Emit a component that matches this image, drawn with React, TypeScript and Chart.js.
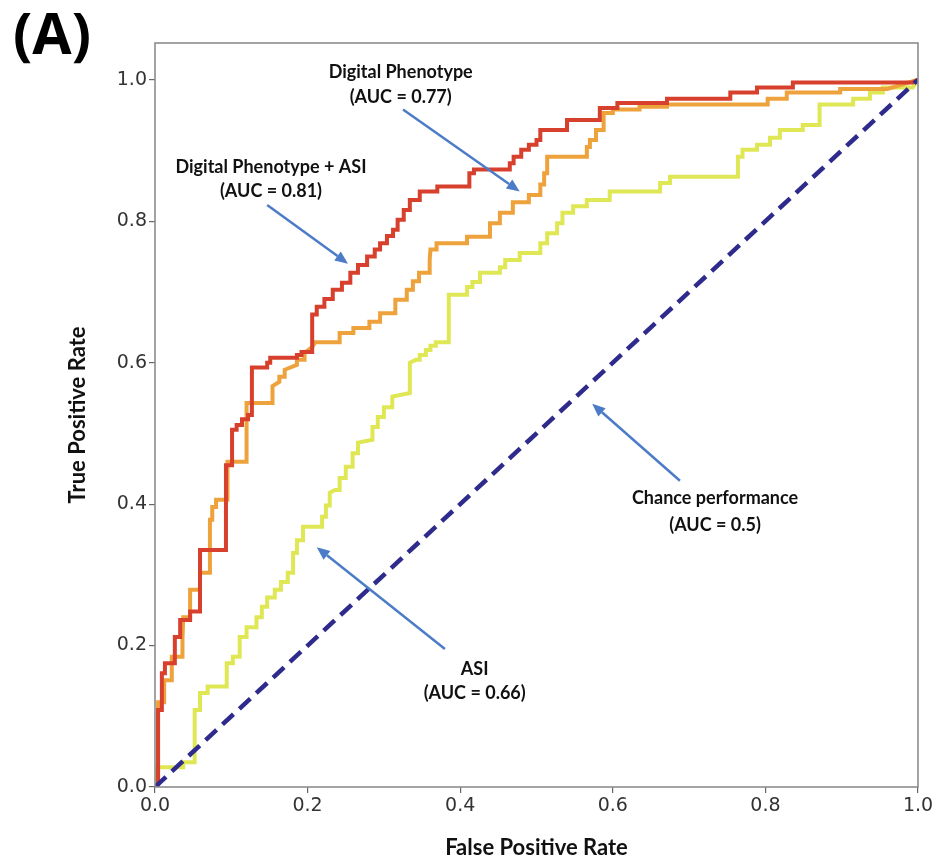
import React, { useEffect, useRef } from "react";
import { Chart, registerables } from "chart.js";

Chart.register(...registerables);

const xTicks = [0, 0.2, 0.4, 0.6, 0.8, 1.0];
const yTicks = [0, 0.2, 0.4, 0.6, 0.8, 1.0];

// ROC curve: Digital Phenotype + ASI (AUC = 0.81) — [FPR, TPR]
const dpAsiRoc: [number, number][] = [
  [0, 0], [0.004, 0], [0.004, 0.109], [0.009, 0.109], [0.009, 0.161], [0.013, 0.161], [0.013, 0.175],
  [0.026, 0.175], [0.026, 0.212], [0.033, 0.212], [0.033, 0.236], [0.046, 0.236], [0.046, 0.248],
  [0.059, 0.248], [0.059, 0.335], [0.093, 0.335], [0.093, 0.455], [0.101, 0.455], [0.101, 0.505],
  [0.107, 0.505], [0.107, 0.512], [0.114, 0.512], [0.114, 0.52], [0.122, 0.52], [0.122, 0.526],
  [0.127, 0.526], [0.127, 0.593], [0.147, 0.593], [0.147, 0.6], [0.151, 0.6], [0.151, 0.607],
  [0.186, 0.607], [0.186, 0.611], [0.192, 0.611], [0.192, 0.615], [0.206, 0.615], [0.206, 0.668],
  [0.212, 0.668], [0.212, 0.679], [0.222, 0.679], [0.222, 0.69], [0.233, 0.69], [0.233, 0.703],
  [0.245, 0.703], [0.245, 0.713], [0.256, 0.713], [0.256, 0.727], [0.266, 0.727], [0.266, 0.738],
  [0.278, 0.738], [0.278, 0.75], [0.288, 0.75], [0.288, 0.76], [0.295, 0.76], [0.295, 0.769],
  [0.304, 0.769], [0.304, 0.779], [0.312, 0.779], [0.312, 0.788], [0.318, 0.788], [0.318, 0.802],
  [0.326, 0.802], [0.326, 0.816], [0.334, 0.816], [0.334, 0.83], [0.347, 0.83], [0.347, 0.842],
  [0.37, 0.842], [0.37, 0.849], [0.412, 0.849], [0.412, 0.868], [0.418, 0.868], [0.418, 0.873],
  [0.465, 0.873], [0.465, 0.882], [0.47, 0.882], [0.47, 0.891], [0.48, 0.891], [0.48, 0.901],
  [0.49, 0.901], [0.49, 0.908], [0.5, 0.908], [0.5, 0.915], [0.505, 0.915], [0.505, 0.929],
  [0.54, 0.929], [0.54, 0.943], [0.583, 0.943], [0.583, 0.96], [0.606, 0.96], [0.606, 0.967],
  [0.671, 0.967], [0.671, 0.973], [0.754, 0.973], [0.754, 0.982], [0.789, 0.982], [0.789, 0.989],
  [0.836, 0.989], [0.836, 0.996], [0.993, 0.996], [1, 1],
];

// ROC curve: Digital Phenotype (AUC = 0.77)
const dpRoc: [number, number][] = [
  [0, 0], [0.004, 0], [0.004, 0.12], [0.012, 0.12], [0.012, 0.151], [0.022, 0.151], [0.022, 0.184],
  [0.036, 0.184], [0.036, 0.208], [0.037, 0.24], [0.046, 0.24], [0.046, 0.279], [0.059, 0.279],
  [0.059, 0.303], [0.072, 0.303], [0.072, 0.378], [0.075, 0.378], [0.075, 0.396], [0.08, 0.396],
  [0.08, 0.406], [0.095, 0.406], [0.095, 0.46], [0.12, 0.46], [0.12, 0.543], [0.154, 0.543],
  [0.154, 0.567], [0.163, 0.573], [0.163, 0.58], [0.17, 0.58], [0.17, 0.59], [0.186, 0.597],
  [0.186, 0.604], [0.196, 0.604], [0.196, 0.614], [0.206, 0.622], [0.21, 0.629], [0.242, 0.629],
  [0.242, 0.642], [0.26, 0.642], [0.26, 0.649], [0.281, 0.649], [0.281, 0.658], [0.295, 0.658],
  [0.295, 0.67], [0.315, 0.67], [0.315, 0.689], [0.33, 0.689], [0.33, 0.703], [0.338, 0.703],
  [0.338, 0.715], [0.346, 0.715], [0.346, 0.727], [0.36, 0.727], [0.36, 0.745], [0.361, 0.76],
  [0.369, 0.76], [0.369, 0.769], [0.409, 0.769], [0.409, 0.778], [0.439, 0.778], [0.439, 0.797],
  [0.452, 0.797], [0.452, 0.812], [0.469, 0.812], [0.469, 0.827], [0.49, 0.827], [0.49, 0.837],
  [0.505, 0.837], [0.505, 0.852], [0.51, 0.852], [0.51, 0.868], [0.514, 0.868], [0.514, 0.891],
  [0.566, 0.891], [0.566, 0.905], [0.57, 0.905], [0.57, 0.915], [0.578, 0.915], [0.578, 0.929],
  [0.588, 0.929], [0.588, 0.953], [0.6, 0.953], [0.6, 0.958], [0.635, 0.958], [0.635, 0.962],
  [0.671, 0.962], [0.671, 0.965], [0.803, 0.965], [0.803, 0.973], [0.828, 0.973], [0.828, 0.982],
  [0.898, 0.982], [0.898, 0.987], [0.96, 0.987], [1, 1],
];

// ROC curve: ASI (AUC = 0.66)
const asiRoc: [number, number][] = [
  [0, 0], [0.001, 0], [0.001, 0.028], [0.037, 0.028], [0.037, 0.035], [0.052, 0.035], [0.052, 0.109],
  [0.059, 0.109], [0.059, 0.133], [0.069, 0.133], [0.069, 0.142], [0.094, 0.142], [0.094, 0.175],
  [0.102, 0.175], [0.102, 0.184], [0.111, 0.184], [0.111, 0.212], [0.12, 0.212], [0.12, 0.226],
  [0.133, 0.226], [0.133, 0.24], [0.14, 0.24], [0.14, 0.255], [0.147, 0.255], [0.147, 0.268],
  [0.157, 0.268], [0.157, 0.279], [0.165, 0.279], [0.165, 0.29], [0.174, 0.29], [0.174, 0.303],
  [0.181, 0.303], [0.181, 0.331], [0.186, 0.331], [0.186, 0.349], [0.194, 0.349], [0.194, 0.368],
  [0.219, 0.368], [0.219, 0.382], [0.224, 0.382], [0.224, 0.398], [0.229, 0.398], [0.229, 0.416],
  [0.236, 0.42], [0.242, 0.42], [0.242, 0.437], [0.25, 0.437], [0.25, 0.453], [0.259, 0.453],
  [0.259, 0.472], [0.266, 0.472], [0.266, 0.487], [0.285, 0.491], [0.285, 0.509], [0.292, 0.509],
  [0.292, 0.523], [0.3, 0.523], [0.3, 0.537], [0.311, 0.537], [0.311, 0.552], [0.334, 0.557],
  [0.334, 0.6], [0.342, 0.604], [0.347, 0.604], [0.347, 0.611], [0.355, 0.611], [0.355, 0.618],
  [0.361, 0.618], [0.361, 0.624], [0.368, 0.624], [0.368, 0.629], [0.385, 0.629], [0.385, 0.696],
  [0.409, 0.696], [0.409, 0.707], [0.416, 0.707], [0.416, 0.714], [0.426, 0.714], [0.426, 0.727],
  [0.452, 0.727], [0.452, 0.735], [0.459, 0.735], [0.459, 0.745], [0.478, 0.745], [0.478, 0.755],
  [0.505, 0.755], [0.505, 0.769], [0.514, 0.769], [0.514, 0.783], [0.527, 0.783], [0.527, 0.797],
  [0.534, 0.797], [0.534, 0.812], [0.548, 0.812], [0.548, 0.821], [0.566, 0.821], [0.566, 0.83],
  [0.596, 0.83], [0.596, 0.842], [0.662, 0.842], [0.662, 0.854], [0.675, 0.854], [0.675, 0.863],
  [0.764, 0.863], [0.764, 0.891], [0.77, 0.891], [0.77, 0.901], [0.789, 0.901], [0.789, 0.908],
  [0.806, 0.908], [0.806, 0.918], [0.819, 0.918], [0.819, 0.929], [0.849, 0.929], [0.849, 0.936],
  [0.871, 0.936], [0.871, 0.965], [0.915, 0.965], [0.915, 0.973], [0.937, 0.973], [0.937, 0.982],
  [0.954, 0.982], [0.954, 0.989], [0.993, 0.989], [1, 1],
];

// Chance performance diagonal
const chanceRoc: [number, number][] = [[0, 0], [1, 1]];

// Annotation labels (data coordinates): label lines, text centre x, line y's, arrow tail, arrow head
const labelLines: string[][] = [
  ["Digital Phenotype", "(AUC = 0.77)"],
  ["Digital Phenotype + ASI", "(AUC = 0.81)"],
  ["Chance performance", "(AUC = 0.5)"],
  ["ASI", "(AUC = 0.66)"],
];
const labelX = [0.322, 0.152, 0.734, 0.419];
const labelY: number[][] = [
  [1.011, 0.975],
  [0.877, 0.842],
  [0.409, 0.37],
  [0.167, 0.132],
];
const arrowFrom: [number, number][] = [[0.325, 0.958], [0.147, 0.823], [0.688, 0.433], [0.38, 0.195]];
const arrowTo: [number, number][] = [[0.478, 0.842], [0.253, 0.74], [0.573, 0.542], [0.212, 0.339]];

const toXY = (pts: [number, number][]) => pts.map(([x, y]) => ({ x, y }));

const decorPlugin = {
  id: "decor",
  afterDraw(chart: any) {
    const { ctx, chartArea, scales } = chart;
    const xs = scales.x;
    const ys = scales.y;
    ctx.save();
    // frame (spines)
    ctx.strokeStyle = "#8c8c8c";
    ctx.lineWidth = 1.6;
    ctx.strokeRect(chartArea.left, chartArea.top, chartArea.right - chartArea.left, chartArea.bottom - chartArea.top);

    // arrows
    ctx.strokeStyle = "#4c7bc8";
    ctx.fillStyle = "#4c7bc8";
    ctx.lineWidth = 2.5;
    for (let i = 0; i < arrowFrom.length; i++) {
      const x1 = xs.getPixelForValue(arrowFrom[i][0]);
      const y1 = ys.getPixelForValue(arrowFrom[i][1]);
      const x2 = xs.getPixelForValue(arrowTo[i][0]);
      const y2 = ys.getPixelForValue(arrowTo[i][1]);
      const ang = Math.atan2(y2 - y1, x2 - x1);
      const hl = 13;
      const hw = 5.5;
      const bx = x2 - hl * Math.cos(ang);
      const by = y2 - hl * Math.sin(ang);
      ctx.beginPath();
      ctx.moveTo(x1, y1);
      ctx.lineTo(bx, by);
      ctx.stroke();
      ctx.beginPath();
      ctx.moveTo(x2, y2);
      ctx.lineTo(bx + hw * Math.sin(ang), by - hw * Math.cos(ang));
      ctx.lineTo(bx - hw * Math.sin(ang), by + hw * Math.cos(ang));
      ctx.closePath();
      ctx.fill();
    }

    // labels
    ctx.fillStyle = "#111";
    ctx.font = "bold 18px Lato, 'Open Sans', sans-serif";
    ctx.textAlign = "center";
    ctx.textBaseline = "middle";
    for (let i = 0; i < labelLines.length; i++) {
      const cx = xs.getPixelForValue(labelX[i]);
      labelLines[i].forEach((t, j) => {
        ctx.fillText(t, cx, ys.getPixelForValue(labelY[i][j]));
      });
    }

    // panel letter
    ctx.font = "bold 57px 'Open Sans', sans-serif";
    ctx.textAlign = "left";
    ctx.textBaseline = "alphabetic";
    ctx.fillStyle = "#000";
    ctx.fillText("(A)", 13, 54);
    ctx.restore();
  },
};

export default function App() {
  const canvasRef = useRef<HTMLCanvasElement | null>(null);

  useEffect(() => {
    if (!canvasRef.current) return;
    const tickFont = { family: "'DejaVu Sans', sans-serif", size: 19 };
    const titleFont = { family: "Lato, 'Open Sans', sans-serif", size: 22, weight: "bold" as const };
    const chart = new Chart(canvasRef.current, {
      type: "line",
      data: {
        datasets: [
          {
            label: "Chance performance",
            data: toXY(chanceRoc),
            borderColor: "#2e2b8c",
            borderWidth: 4.5,
            borderDash: [15, 8],
            pointRadius: 0,
            order: 0,
          },
          {
            label: "Digital Phenotype + ASI",
            data: toXY(dpAsiRoc),
            borderColor: "#d7402c",
            borderWidth: 4,
            pointRadius: 0,
            order: 1,
          },
          {
            label: "Digital Phenotype",
            data: toXY(dpRoc),
            borderColor: "#eea23c",
            borderWidth: 4,
            pointRadius: 0,
            order: 2,
          },
          {
            label: "ASI",
            data: toXY(asiRoc),
            borderColor: "#e0e754",
            borderWidth: 4,
            pointRadius: 0,
            order: 3,
          },
        ],
      },
      options: {
        animation: false,
        responsive: true,
        maintainAspectRatio: false,
        layout: { padding: { left: 60, right: 20, top: 43, bottom: 4 } },
        plugins: { legend: { display: false }, tooltip: { enabled: false } },
        elements: { line: { tension: 0, borderCapStyle: "butt", borderJoinStyle: "miter" } },
        scales: {
          x: {
            type: "linear",
            min: 0,
            max: 1,
            afterBuildTicks: (s: any) => {
              s.ticks = xTicks.map((v) => ({ value: v }));
            },
            afterFit: (s: any) => {
              s.height = 74;
            },
            border: { display: false },
            grid: { drawOnChartArea: false, drawTicks: true, tickLength: 6, color: "#666", lineWidth: 1.2 },
            ticks: {
              font: tickFont,
              color: "#333",
              padding: 2,
              maxRotation: 0,
              callback: (v: any) => Number(v).toFixed(1),
            },
            title: {
              display: true,
              text: "False Positive Rate",
              font: titleFont,
              color: "#111",
              padding: { top: 0, bottom: 0 },
            },
          },
          y: {
            type: "linear",
            min: 0,
            max: 1.052,
            afterBuildTicks: (s: any) => {
              s.ticks = yTicks.map((v) => ({ value: v }));
            },
            afterFit: (s: any) => {
              s.width = 95;
            },
            border: { display: false },
            grid: { drawOnChartArea: false, drawTicks: true, tickLength: 6, color: "#666", lineWidth: 1.2 },
            ticks: {
              font: tickFont,
              color: "#333",
              padding: 2,
              callback: (v: any) => Number(v).toFixed(1),
            },
            title: {
              display: true,
              text: "True Positive Rate",
              font: titleFont,
              color: "#111",
              padding: { top: 5, bottom: 0 },
            },
          },
        },
      },
      plugins: [decorPlugin],
    });
    return () => chart.destroy();
  }, []);

  return (
    <div style={{ position: "fixed", left: 0, top: 0, width: 938, height: 865, background: "#fff" }}>
      <canvas ref={canvasRef} />
    </div>
  );
}
